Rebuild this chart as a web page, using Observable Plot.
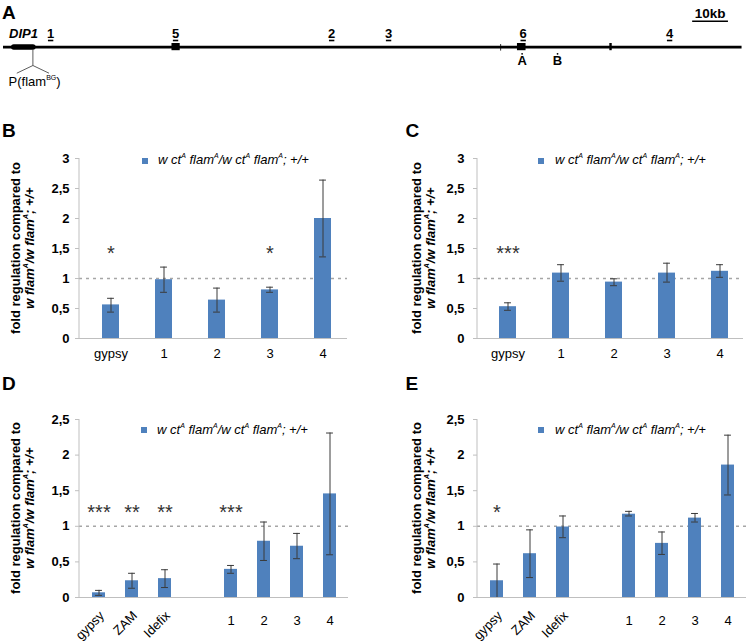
<!DOCTYPE html>
<html><head><meta charset="utf-8">
<script src="https://cdn.jsdelivr.net/npm/d3@7"></script>
<script src="https://cdn.jsdelivr.net/npm/@observablehq/plot@0.6"></script>
<style>
body{margin:0;background:#fff}
#page{position:relative;width:747px;height:643px;overflow:hidden;font-family:"Liberation Sans",Arial,Helvetica,sans-serif;color:#000;background:#fff}
#page svg{position:absolute;left:0;top:0}
.ov{position:absolute;white-space:nowrap;line-height:1}
.letter{font-weight:bold;font-size:19px}
.legend{font-size:13px;font-style:italic}
.sw{position:absolute;width:6px;height:6px;background:#4f81bd}
.sup{font-size:7px;position:relative;top:-6px}
.ytitle{position:absolute;width:240px;height:28px;font-size:13px;font-weight:bold;line-height:14px;text-align:center;transform:rotate(-90deg);white-space:nowrap}
</style></head>
<body><div id="page"></div>
<script>
// ---------------- Panel A : locus map (kb) ----------------
const probeLabels = ["1", "5", "2", "3", "6", "4"];
const probeKb = [14.0, 48.9, 92.5, 108.4, 146.0, 186.9];
const exonStartKb = [47.9, 144.4];
const exonEndKb = [50.2, 146.8];
const markKb = [139.7, 170.4];
const markKind = ["thin", "thick"];
const siteLabels = ["A", "B"];
const siteKb = [145.7, 155.6];
const locusStartKb = 0.7, locusEndKb = 207;
const dip1StartKb = 3.7, dip1EndKb = 9.05;
const insertionKb = 9.05;
const scaleBarStartKb = 193.2, scaleBarLengthKb = 10;
const geneName = "DIP1";
const scaleLabel = "10kb";

// ---------------- Panels B, C ----------------
const catsBC = ["gypsy", "1", "2", "3", "4"];
const meanB = [0.56, 0.98, 0.64, 0.81, 2.00];
const lowB  = [0.44, 0.77, 0.44, 0.77, 1.36];
const highB = [0.67, 1.19, 0.84, 0.855, 2.64];
const sigB  = ["*", "", "", "*", ""];

const meanC = [0.53, 1.09, 0.94, 1.09, 1.12];
const lowC  = [0.47, 0.955, 0.88, 0.94, 1.02];
const highC = [0.595, 1.23, 0.995, 1.255, 1.23];
const sigC  = ["***", "", "", "", ""];

// ---------------- Panels D, E ----------------
const catsDE = ["gypsy", "ZAM", "Idefix", "1", "2", "3", "4"];
const slotsDE = ["gypsy", "ZAM", "Idefix", "gap", "1", "2", "3", "4"];
const teNames = ["gypsy", "ZAM", "Idefix"];
const meanD = [0.066, 0.235, 0.265, 0.395, 0.79, 0.72, 1.455];
const lowD  = [0.03, 0.13, 0.14, 0.34, 0.52, 0.545, 0.60];
const highD = [0.10, 0.34, 0.39, 0.45, 1.06, 0.90, 2.31];
const sigD  = ["***", "**", "**", "***", "", "", ""];

const meanE = [0.235, 0.615, 0.99, 1.17, 0.76, 1.115, 1.86];
const lowE  = [0.0, 0.28, 0.84, 1.145, 0.605, 1.06, 1.44];
const highE = [0.47, 0.95, 1.145, 1.21, 0.92, 1.18, 2.28];
const sigE  = ["*", "", "", "", "", "", ""];

const ticksBC = [0, 0.5, 1, 1.5, 2, 2.5, 3];
const ticksDE = [0, 0.5, 1, 1.5, 2, 2.5];
const refLevel = 1;
const starLevelBC = 1.5, starLevelDE = 1.26;

const legendHTML = 'w ct<span class="sup">A</span> flam<span class="sup">A</span>/w ct<span class="sup">A</span> flam<span class="sup">A</span>; +/+';
const yTitle1 = "fold regulation compared to";
const yTitle2 = '<i>w flam<span class="sup">A</span>/w flam<span class="sup">A</span>; +/+</i>';
const flamLabel = 'P(flam<span class="sup">BG</span>)';

// ---------------- styling ----------------
const FONT = '"Liberation Sans", Arial, Helvetica, sans-serif';
const BLUE = "#4f81bd", ERR = "#3a3a3a", AXIS = "#bfbfbf", REF = "#a6a6a6";
const W = 747, H = 643;
const page = document.getElementById("page");
const comma = d => String(d).replace(".", ",");
const svgNS = "http://www.w3.org/2000/svg";

// ---------------- Panel A ----------------
const pxPerKb = 3.58;
const rowA = {label: 33.3, dash: 40, line: 46.6, exonTop: 43, exonBottom: 50.2, markTop: 44, markBottom: 50.6,
  dot: 53.3, site: 60.8, insTop: 49, insKnee: 65, insFoot: 72.7, gene: 33.8, scaleText: 13.6, scaleBar: 20.7};
const probes = probeLabels.map((name, i) => ({name, kb: probeKb[i]}));
const exons = exonStartKb.map((s, i) => ({s, e: exonEndKb[i]}));
const marks = markKb.map((kb, i) => ({kb, kind: markKind[i]}));
const sites = siteLabels.map((name, i) => ({name, kb: siteKb[i]}));
const insSpread = 4.5;
const insertion = [
  {x1: insertionKb, y1: rowA.insTop, x2: insertionKb, y2: rowA.insKnee},
  {x1: insertionKb, y1: rowA.insKnee, x2: insertionKb - insSpread, y2: rowA.insFoot},
  {x1: insertionKb, y1: rowA.insKnee, x2: insertionKb + insSpread, y2: rowA.insFoot}
];
const dashHalf = 0.75;
const plotA = Plot.plot({
  width: W, height: 100, margin: 0,
  style: {background: "transparent", fontFamily: FONT, fontSize: "13px", overflow: "visible"},
  x: {domain: [0, W / pxPerKb], range: [0, W], axis: null},
  y: {domain: [0, 100], range: [0, 100], axis: null},
  marks: [
    Plot.link([0], {x1: () => locusStartKb, x2: () => locusEndKb, y1: () => rowA.line, y2: () => rowA.line, stroke: "#000", strokeWidth: 2.6}),
    Plot.rect(exons, {x1: "s", x2: "e", y1: () => rowA.exonTop, y2: () => rowA.exonBottom, fill: "#000"}),
    Plot.ruleX(marks.filter(d => d.kind === "thin"), {x: "kb", y1: () => rowA.markTop, y2: () => rowA.markBottom, stroke: "#000", strokeWidth: 0.8}),
    Plot.ruleX(marks.filter(d => d.kind === "thick"), {x: "kb", y1: () => rowA.exonTop, y2: () => rowA.exonBottom, stroke: "#000", strokeWidth: 2.4}),
    Plot.link([0], {x1: () => dip1StartKb, x2: () => dip1EndKb, y1: () => rowA.line, y2: () => rowA.line, stroke: "#000", strokeWidth: 5.5, strokeLinecap: "round"}),
    Plot.link(insertion, {x1: "x1", y1: "y1", x2: "x2", y2: "y2", stroke: "#333", strokeWidth: 0.8}),
    Plot.text(probes, {x: "kb", y: () => rowA.label, text: "name", fontWeight: "bold", fontSize: 13, lineAnchor: "middle"}),
    Plot.link(probes, {x1: d => d.kb - dashHalf, x2: d => d.kb + dashHalf, y1: () => rowA.dash, y2: () => rowA.dash, stroke: "#000", strokeWidth: 1.6}),
    Plot.dot(sites, {x: "kb", y: () => rowA.dot, r: 0.9, fill: "#000"}),
    Plot.text(sites, {x: "kb", y: () => rowA.site, text: "name", fontWeight: "bold", fontSize: 13, lineAnchor: "middle"}),
    Plot.text([geneName], {x: () => 2.4, y: () => rowA.gene, text: d => d, textAnchor: "start", fontStyle: "italic", fontWeight: "bold", fontSize: 13, lineAnchor: "middle"}),
    Plot.link([0], {x1: () => scaleBarStartKb, x2: () => scaleBarStartKb + scaleBarLengthKb, y1: () => rowA.scaleBar, y2: () => rowA.scaleBar, stroke: "#000", strokeWidth: 1.5}),
    Plot.text([scaleLabel], {x: () => scaleBarStartKb + scaleBarLengthKb / 2, y: () => rowA.scaleText, text: d => d, fontWeight: "bold", fontSize: 13.5, lineAnchor: "middle"})
  ]
});
page.appendChild(plotA);

// ---------------- bar panels ----------------
function leftLine(index, scales, values, dim) {
  const l = document.createElementNS(svgNS, "line");
  l.setAttribute("x1", dim.marginLeft); l.setAttribute("x2", dim.marginLeft);
  l.setAttribute("y1", dim.marginTop); l.setAttribute("y2", dim.height - dim.marginBottom);
  l.setAttribute("stroke", AXIS); l.setAttribute("stroke-width", 1);
  return l;
}

function barPanel(p) {
  const rows = p.cats.map((c, i) => ({c, v: p.mean[i], lo: p.low[i], hi: p.high[i], s: p.sig[i]}));
  const bw = d3.scaleBand().domain(p.domain).range(p.xRange).paddingInner(p.pi).paddingOuter(p.pi / 2).bandwidth();
  const capInset = Math.max(0, (bw - 7) / 2);
  const marksList = [
    Plot.ruleY([refLevel], {stroke: REF, strokeWidth: 1.6, strokeDasharray: "3,4"}),
    Plot.barY(rows, {x: "c", y: "v", fill: BLUE}),
    Plot.ruleX(rows, {x: "c", y1: "lo", y2: "hi", stroke: ERR, strokeWidth: 1}),
    Plot.tickY(rows, {x: "c", y: "lo", stroke: ERR, strokeWidth: 1, insetLeft: capInset, insetRight: capInset}),
    Plot.tickY(rows, {x: "c", y: "hi", stroke: ERR, strokeWidth: 1, insetLeft: capInset, insetRight: capInset}),
    Plot.ruleY([0], {stroke: AXIS, strokeWidth: 1}),
    leftLine,
    Plot.axisY({ticks: p.ticks, tickSize: 4, tickPadding: p.tickPad, tickFormat: comma, fontSize: 13, fontWeight: "bold", stroke: AXIS, fill: "#000", label: null}),
    Plot.text(rows.filter(d => d.s), {x: "c", y: () => p.starLevel, text: "s", fontSize: 20, lineAnchor: "middle", dy: 5, fill: "#333"})
  ];
  if (p.rotated) {
    marksList.push(Plot.text(p.cats.filter(c => teNames.includes(c)), {x: d => d, frameAnchor: "bottom", text: d => d, rotate: -45, textAnchor: "end", lineAnchor: "middle", dx: 3, dy: 16, fontSize: 13}));
    marksList.push(Plot.text(p.cats.filter(c => !teNames.includes(c)), {x: d => d, frameAnchor: "bottom", text: d => d, lineAnchor: "top", dy: 18, fontSize: 13}));
  } else {
    marksList.push(Plot.text(p.cats, {x: d => d, frameAnchor: "bottom", text: d => d, lineAnchor: "top", dy: 10, fontSize: 13}));
  }
  const [L, T, R, B] = p.frame;
  return Plot.plot({
    width: W, height: H,
    marginLeft: L, marginTop: T, marginRight: W - R, marginBottom: H - B,
    style: {background: "transparent", fontFamily: FONT, fontSize: "13px", overflow: "visible"},
    x: {type: "band", domain: p.domain, range: p.xRange, paddingInner: p.pi, paddingOuter: p.pi / 2, axis: null},
    y: {domain: [0, p.ticks[p.ticks.length - 1]]},
    marks: marksList
  });
}

const panels = [
  {cats: catsBC, domain: catsBC, mean: meanB, low: lowB, high: highB, sig: sigB, ticks: ticksBC, starLevel: starLevelBC,
   frame: [79, 158, 347, 338], xRange: [82, 350], pi: 0.68, tickPad: 6, rotated: false},
  {cats: catsBC, domain: catsBC, mean: meanC, low: lowC, high: highC, sig: sigC, ticks: ticksBC, starLevel: starLevelBC,
   frame: [477, 158, 743, 338], xRange: [480, 746.7], pi: 0.68, tickPad: 9, rotated: false},
  {cats: catsDE, domain: slotsDE, mean: meanD, low: lowD, high: highD, sig: sigD, ticks: ticksDE, starLevel: starLevelDE,
   frame: [79, 419, 348, 597], xRange: [79, 348], pi: 0.61, tickPad: 6, rotated: true},
  {cats: catsDE, domain: slotsDE, mean: meanE, low: lowE, high: highE, sig: sigE, ticks: ticksDE, starLevel: starLevelDE,
   frame: [477, 419, 746, 597], xRange: [477, 746], pi: 0.61, tickPad: 9, rotated: true}
];
panels.forEach(p => page.appendChild(barPanel(p)));

// ---------------- text overlays ----------------
function addDiv(cls, html, left, top) {
  const d = document.createElement("div");
  d.className = cls; d.innerHTML = html;
  d.style.left = left + "px"; d.style.top = top + "px";
  page.appendChild(d);
  return d;
}
addDiv("ov letter", "A", 2, 2.5);
addDiv("ov letter", "B", 2, 120.5);
addDiv("ov letter", "C", 405.5, 120.5);
addDiv("ov letter", "D", 2, 373.5);
addDiv("ov letter", "E", 405.5, 373.5);
addDiv("ov", flamLabel, 8.6, 75).style.fontSize = "13px";

[[141.7, 157.5, 158, 152.5], [538.3, 157.5, 555, 152.5], [140.5, 427, 157, 422.5], [538.3, 427, 555, 422.5]].forEach(([sx, sy, tx, ty]) => {
  addDiv("sw", "", sx, sy);
  addDiv("ov legend", legendHTML, tx, ty);
});
[[22.5, 248], [424, 248], [22.5, 508], [424, 508]].forEach(([cx, cy]) => {
  addDiv("ytitle", yTitle1 + "<br>" + yTitle2, cx - 120, cy - 14);
});
</script></body></html>
